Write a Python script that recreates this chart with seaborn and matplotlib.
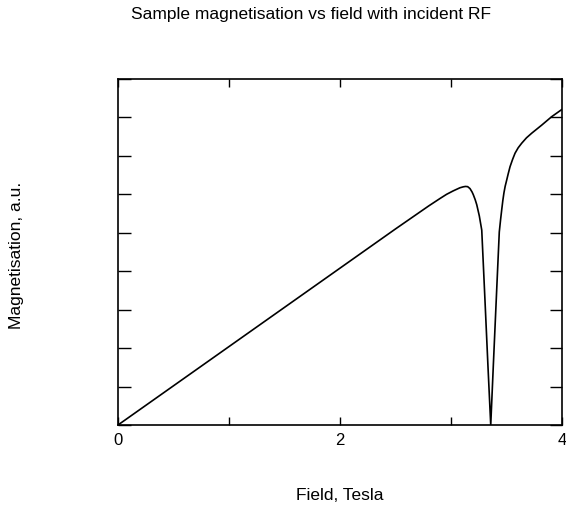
import matplotlib
matplotlib.use("Agg")
import matplotlib.pyplot as plt
import seaborn as sns
import pandas as pd

# Values
field = [0.000, 1.000, 2.000, 2.500, 2.700, 2.800, 2.900, 2.960, 3.020, 3.050, 3.080,
         3.110, 3.130, 3.150, 3.171, 3.190, 3.201, 3.218, 3.232, 3.255, 3.277, 3.306,
         3.333, 3.358, 3.381, 3.412, 3.435, 3.447, 3.457, 3.467, 3.477, 3.488, 3.500,
         3.515, 3.532, 3.555, 3.577, 3.605, 3.637, 3.680, 3.727, 3.817, 3.907, 4.000]
magnetisation = [0.00, 2.04, 4.08, 5.10, 5.50, 5.70, 5.89, 6.00, 6.09, 6.13, 6.17,
                 6.195, 6.205, 6.20, 6.15, 6.06, 5.99, 5.86, 5.73, 5.44, 5.07, 3.25,
                 1.53, 0.00, 1.53, 3.54, 5.02, 5.35, 5.60, 5.84, 6.04, 6.21, 6.35,
                 6.53, 6.72, 6.91, 7.07, 7.21, 7.33, 7.47, 7.59, 7.80, 8.02, 8.21]
x_ticks = [0, 1, 2, 3, 4]
x_tick_labels = ["0", "", "2", "", "4"]
y_ticks = list(range(0, 10))

title = "Sample magnetisation vs field with incident RF"
xlabel = "Field, Tesla"
ylabel = "Magnetisation, a.u."

sns.set_style("ticks")
plt.rcParams["font.family"] = ["Liberation Sans", "DejaVu Sans"]
plt.rcParams["text.color"] = "black"
plt.rcParams["xtick.color"] = "black"
plt.rcParams["ytick.color"] = "black"
plt.rcParams["axes.edgecolor"] = "black"

df = pd.DataFrame({"field": field, "mag": magnetisation})

fig = plt.figure(figsize=(5.66, 5.20), dpi=100)
ax = fig.add_axes([118 / 566, 1 - 425 / 520, (562 - 118) / 566, (425 - 79) / 520])

sns.lineplot(data=df, x="field", y="mag", ax=ax, color="black", linewidth=1.2,
             estimator=None, sort=False)
for ln in ax.get_lines():
    ln.set_solid_joinstyle("round")

ax.set_xlim(0, 4)
ax.set_ylim(0, 9)
ax.set_xticks(x_ticks)
ax.set_xticklabels(x_tick_labels, fontsize=12, color="black")
ax.set_yticks(y_ticks)
ax.set_yticklabels([])
ax.tick_params(axis="x", direction="in", length=6, width=1, top=True, bottom=True, pad=6)
ax.tick_params(axis="y", direction="in", length=9, width=1, left=True, right=True)
for s in ax.spines.values():
    s.set_visible(True)
    s.set_linewidth(1.2)
    s.set_color("black")
ax.set_xlabel("")
ax.set_ylabel("")

fig.text(311 / 566, 1 - 14 / 520, title, ha="center", va="center", fontsize=12.5, color="black")
fig.text(340 / 566, 1 - 496 / 520, xlabel, ha="center", va="center", fontsize=12.5, color="black")
fig.text(17 / 566, 1 - 255 / 520, ylabel, ha="center", va="center", rotation=90,
         fontsize=12.5, color="black")

fig.savefig("out.png", dpi=100, facecolor="white")
